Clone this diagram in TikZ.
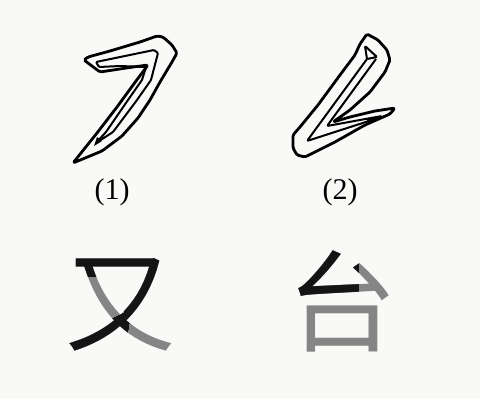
\documentclass[tikz,border=0pt]{standalone}
\usepackage{fontspec}
\setmainfont{Liberation Serif}
\newfontfamily\cjk{Noto Sans CJK SC}
\begin{document}
\begin{tikzpicture}[x=1pt,y=-1pt,
  contour/.style={line width=2.8pt, line join=round, rounded corners=1.5pt},
  inline/.style={line width=2pt, line join=round, rounded corners=1pt},
  numlabel/.style={font=\fontsize{30}{30}\selectfont, inner sep=0pt},
  glyph/.style={font=\cjk\fontsize{110}{110}\selectfont, inner sep=0pt},
  lightstroke/.style={text=black!48},
  darkstroke/.style={text=black!92}]
\definecolor{paper}{RGB}{249,249,247}
\fill[paper] (0,0) rectangle (480,399);
\useasboundingbox (0,0) rectangle (480,399);

% stroke (1): hollow outline with its inner loop
\draw[contour] (84,60) -- (88,57) -- (110,51) -- (140,42) -- (157,36) -- (163,37)
  -- (172,45) -- (177,53) -- (172,62) -- (160,82) -- (150,100) -- (138,118)
  -- (122,136) -- (102,151) -- (73,163) -- (85,148) -- (97,133) -- (117,107)
  -- (136,81) -- (148,65) -- (133,67) -- (100,72) -- cycle;
\draw[inline] (96,62) -- (125,56) -- (154,50) -- (158,53) -- (151,80) -- (137,100)
  -- (113,132) -- (96,143) -- (106,132) -- (128,100) -- (142,80) -- (146,67)
  -- (120,66) -- (99,67) -- cycle;
\fill (94,146) -- (97,137) -- (102,141) -- cycle;

% stroke (2): hollow outline with its inner loop and direction arrow
\draw[contour] (360,44) -- (367,34) -- (378,40) -- (387,50) -- (390,60) -- (385,72)
  -- (370,92) -- (350,110) -- (333,122) -- (350,117) -- (375,111) -- (395,108)
  -- (390,114) -- (365,125) -- (335,142) -- (305,157) -- (297,155) -- (293,148)
  -- (293,135) -- (300,127) -- (318,105) -- (340,75) -- (355,55) -- cycle;
\draw[inline] (365,46) -- (377,57) -- (367,59) -- cycle;
\draw[inline] (367,59) -- (307,141) -- (372,120);
\draw[inline] (376,59) -- (327,126) -- (382,116) -- (374,119);
\fill (377,118) -- (366,118) -- (369,124) -- cycle;

\node[numlabel] (n1) at (112,192) {(1)};
\node[numlabel] (n2) at (340,192) {(2)};

% characters: light copy, then the first stroke in black on top
\node[glyph, lightstroke] (you) at (120,305) {又};
\begin{scope}
  \clip (60,250) -- (185,250) -- (185,280) -- (130,318) -- (122,365) -- (60,365)
    -- (60,345) -- (124,312) -- (124,276) -- (60,276) -- cycle;
  \node[glyph, darkstroke] (youdark) at (120,305) {又};
\end{scope}
\node[glyph, lightstroke] (tai) at (342,301) {台};
\begin{scope}
  \clip (290,240) -- (358,240) -- (358,297) -- (290,297) -- cycle;
  \node[glyph, darkstroke] (taidark) at (342,301) {台};
\end{scope}
\end{tikzpicture}
\end{document}
